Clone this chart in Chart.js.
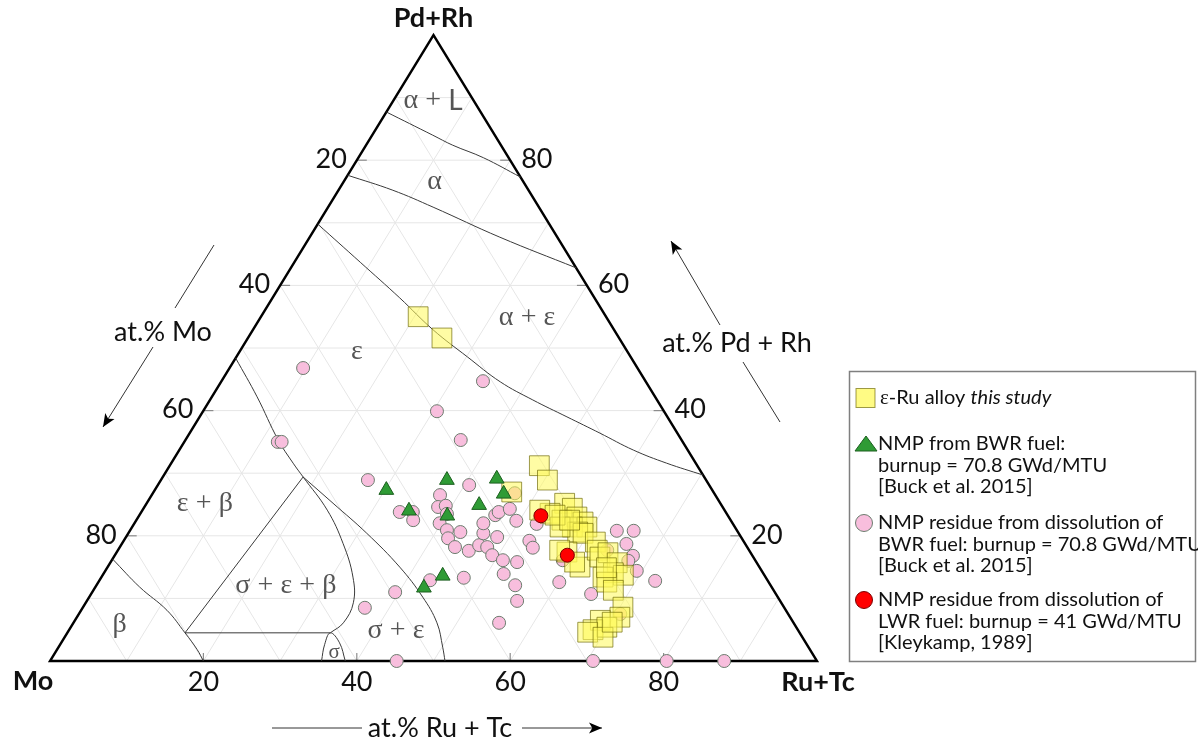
<!DOCTYPE html>
<html>
<head>
<meta charset="utf-8">
<script src="https://cdn.jsdelivr.net/npm/chart.js@4.4.1/dist/chart.umd.min.js"></script>
<style>
  html, body { margin: 0; padding: 0; background: #ffffff; }
  #wrap { width: 1198px; height: 738px; }
</style>
</head>
<body>
<div id="wrap"><canvas id="c" width="1198" height="738"></canvas></div>
<script>
// Compositions in at.%: Ru+Tc and Pd+Rh; Mo is the remainder to 100.

// ε-Ru alloy, this study
const alloyRuTc = [20.5, 25.3, 48.2, 50.4, 46.7, 54.5, 55.9, 53.4, 51.8, 55.5, 57.2, 58.4, 57.4, 59.3,
                   58.5, 55.8, 59.3, 58.7, 57.6, 61.6, 60.5, 61.6, 62.5, 63.4, 64.1, 66.1, 66.4, 67.9,
                   65.4, 66.3, 67.8, 70.4, 70.8, 68.5, 68.3, 69.9, 67.8, 70.2, 70.2, 54.2, 65.1, 56.5];
const alloyPdRh = [55.0, 51.6, 31.2, 28.9, 27.0, 25.2, 24.4, 23.6, 24.1, 22.5, 23.0, 22.2, 21.4, 21.4,
                   20.6, 21.4, 20.4, 17.4, 17.7, 15.0, 15.8, 19.0, 17.7, 16.6, 17.3, 15.7, 14.1, 13.7,
                   13.4, 12.6, 11.3, 8.6, 7.0, 6.5, 5.0, 5.4, 4.6, 3.8, 6.2, 23.3, 14.9, 22.5];

// NMP from BWR fuel [Buck et al. 2015]
const bwrNmpRuTc = [30.2, 34.8, 37.3, 43.7, 45.8, 43.5, 40.2, 44.4, 42.9];
const bwrNmpPdRh = [27.3, 24.0, 28.9, 29.1, 26.7, 24.9, 23.2, 13.6, 11.7];

// NMP residue from dissolution of BWR fuel [Buck et al. 2015]
const bwrResidueRuTc = [9.6, 12.2, 12.7, 34.1, 30.5, 35.9, 27.0, 40.6, 33.7, 35.4, 36.1, 37.6, 38.3, 39.2,
                        40.0, 39.8, 41.3, 43.2, 42.1, 43.7, 45.8, 46.7, 46.3, 45.5, 46.4, 46.6, 47.8, 49.6,
                        48.4, 47.9, 49.2, 51.0, 53.0, 52.2, 54.6, 56.1, 55.5, 47.3, 43.1, 39.5, 36.8, 45.2,
                        52.9, 53.9, 52.5, 60.1, 63.5, 65.7, 65.8, 67.6, 67.4, 69.3, 63.8, 65.2, 72.5, 70.6,
                        70.8, 80.4, 87.9, 58.8, 47.2];
const bwrResiduePdRh = [46.8, 35.0, 35.0, 44.7, 39.9, 35.3, 28.9, 28.1, 23.8, 23.8, 22.5, 26.5, 24.6, 24.8,
                        23.5, 22.0, 20.9, 20.6, 19.6, 18.2, 17.6, 18.5, 20.4, 22.0, 23.3, 23.8, 24.3, 22.4,
                        19.8, 18.2, 16.9, 16.1, 15.8, 13.9, 12.1, 9.6, 6.1, 13.3, 12.9, 11.0, 8.5, 0.0,
                        19.2, 18.1, 21.9, 12.6, 20.8, 20.8, 18.7, 16.8, 16.0, 14.4, 17.7, 10.7, 12.8, 7.5,
                        0.0, 0.0, 0.0, 16.1, 26.8];

// NMP residue from dissolution of LWR fuel [Kleykamp, 1989]
const lwrResidueRuTc = [52.4, 59.0];
const lwrResiduePdRh = [23.2, 16.9];

// Phase boundaries of the Mo–Ru–Pd isothermal section, as [Ru+Tc, Pd+Rh] pairs
const bndLiquid      = [[0, 87.7], [7.9, 84.0], [11.3, 82.4], [16.3, 80.4], [22.7, 77.3]];
const bndAlpha       = [[0, 77.6], [7.1, 75.2], [13.7, 72.5], [24.8, 67.7], [37.2, 62.8]];
const bndAlphaEps    = [[0, 69.8], [8.6, 63.7], [16.6, 58.0], [23.5, 52.9], [30.1, 48.6], [36.4, 44.6],
                        [42.1, 41.7], [47.9, 39.0], [53.5, 36.4], [59.2, 33.7], [64.6, 31.6], [70.3, 29.7]];
const bndEpsBeta     = [[0, 48.4], [5.9, 42.2], [12.1, 35.3], [15.9, 31.6], [18.3, 29.4]];
const bndThreePhase  = [[18.3, 29.4], [24.1, 24.1], [28.8, 18.8], [32.8, 13.4], [34.9, 9.3], [35.2, 6.1], [34.3, 4.5]];
const bndSigmaEps    = [[18.3, 29.4], [24.3, 25.2], [31.1, 20.4], [38.1, 15.0], [43.5, 10.2], [47.4, 6.1], [50.1, 2.2], [51.5, 0]];
const bndTieLines    = [[18.3, 29.4], [15.35, 4.5], [34.3, 4.5]];
const bndBeta        = [[0, 16.3], [5.8, 11.8], [11.2, 8.1], [15.35, 4.5], [18.3, 1.8], [20.0, 0]];
const bndSigma       = [[35.4, 0], [34.5, 2.6], [34.3, 4.5], [36.3, 2.9], [38.5, 0]];

// Phase field names and where they sit, as [Ru+Tc, Pd+Rh]
const phaseNames = ['α + L', 'α', 'α + ε', 'ε', 'ε + β', 'σ + ε + β', 'σ + ε', 'σ', 'β'];
const phaseSpots = [[5.2, 89.5], [11.9, 76.5], [34.8, 54.8], [15.3, 49.4], [7.6, 25.2], [24.7, 12.1], [42.7, 4.8], [36.4, 1.3], [6.2, 5.75]];

const tickValues = [20, 40, 60, 80];
const cornerNames = ['Mo', 'Ru+Tc', 'Pd+Rh'];
const axisTitles = ['at.% Mo', 'at.% Ru + Tc', 'at.% Pd + Rh'];

const legendEntries = [
  ['ε-Ru alloy |this study'],
  ['NMP from BWR fuel:', 'burnup = 70.8 GWd/MTU', '[Buck et al. 2015]'],
  ['NMP residue from dissolution of', 'BWR fuel: burnup = 70.8 GWd/MTU', '[Buck et al. 2015]'],
  ['NMP residue from dissolution of', 'LWR fuel: burnup = 41 GWd/MTU', '[Kleykamp, 1989]']
];

// ---- ternary -> cartesian (x along the base, y = height fraction) ----
const tern = (ru, pd) => ({ x: ru + pd / 2, y: pd });
const toPoints = (ru, pd) => ru.map((r, i) => tern(r, pd[i]));
const toPath = pairs => pairs.map(([r, p]) => tern(r, p));

const SANS = 'Lato, "Liberation Serif", sans-serif';
const SERIF = '"Liberation Serif", "DejaVu Serif", serif';

const STY = {
  alloy:   { bg: 'rgba(255, 250, 90, 0.55)', border: 'rgba(105, 100, 0, 0.65)' },
  bwrNmp:  { bg: '#2f9b35', border: '#1c5f1f' },
  residue: { bg: '#f8bedd', border: '#6c7c6e' },
  lwr:     { bg: '#ff0000', border: '#7a0000' }
};

function boundary(pairs, tension) {
  return {
    data: toPath(pairs), showLine: true, pointRadius: 0, borderColor: '#3a3a3a',
    borderWidth: 1, tension: tension, fill: false, order: 10, clip: false
  };
}

function drawRuns(ctx, runs, x, y, align) {
  let total = 0;
  runs.forEach(r => { ctx.font = r.font; r.w = ctx.measureText(r.t).width; total += r.w; });
  let cx = align === 'center' ? x - total / 2 : (align === 'right' ? x - total : x);
  ctx.textAlign = 'left';
  runs.forEach(r => { ctx.font = r.font; ctx.fillText(r.t, cx, y); cx += r.w; });
}

function greekRuns(str, size) {
  const runs = [];
  for (const ch of str) {
    const serif = /[α-ω+]/.test(ch);
    const font = size + 'px ' + (serif ? SERIF : SANS);
    if (runs.length && runs[runs.length - 1].font === font) runs[runs.length - 1].t += ch;
    else runs.push({ t: ch, font: font });
  }
  return runs;
}

function arrow(ctx, x1, y1, x2, y2, head) {
  ctx.beginPath(); ctx.moveTo(x1, y1); ctx.lineTo(x2, y2); ctx.stroke();
  if (!head) return;
  const a = Math.atan2(y2 - y1, x2 - x1), L = 13, W = 5.5;
  ctx.beginPath();
  ctx.moveTo(x2, y2);
  ctx.lineTo(x2 - L * Math.cos(a) + W * Math.sin(a), y2 - L * Math.sin(a) - W * Math.cos(a));
  ctx.lineTo(x2 - L * 0.75 * Math.cos(a), y2 - L * 0.75 * Math.sin(a));
  ctx.lineTo(x2 - L * Math.cos(a) - W * Math.sin(a), y2 - L * Math.sin(a) + W * Math.cos(a));
  ctx.closePath(); ctx.fill();
}

const ternaryFrame = {
  id: 'ternaryFrame',
  beforeDatasetsDraw(chart) {
    const { ctx } = chart, xs = chart.scales.x, ys = chart.scales.y;
    const P = (ru, pd) => [xs.getPixelForValue(ru + pd / 2), ys.getPixelForValue(pd)];
    const seg = (a, b) => { ctx.beginPath(); ctx.moveTo(a[0], a[1]); ctx.lineTo(b[0], b[1]); ctx.stroke(); };
    ctx.save();
    // 10 % grid in the three composition directions
    ctx.strokeStyle = '#e6e6e6'; ctx.lineWidth = 1;
    for (let v = 10; v < 100; v += 10) {
      seg(P(0, v), P(100 - v, v));          // constant Pd+Rh
      seg(P(v, 0), P(v, 100 - v));          // constant Ru+Tc
      seg(P(100 - v, 0), P(0, 100 - v));    // constant Mo
    }
    // ticks
    ctx.strokeStyle = '#8c8c8c'; ctx.lineWidth = 1.2;
    tickValues.forEach(v => {
      const b = P(v, 0); seg(b, [b[0], b[1] - 8]);
      const l = P(0, 100 - v); seg(l, [l[0] + 10, l[1]]);
      const r = P(100 - v, v); seg(r, [r[0] - 10, r[1]]);
    });
    // outline
    const A = P(0, 0), B = P(100, 0), C = P(0, 100);
    ctx.strokeStyle = '#000000'; ctx.lineWidth = 2.4; ctx.lineJoin = 'miter';
    ctx.beginPath(); ctx.moveTo(A[0], A[1]); ctx.lineTo(B[0], B[1]); ctx.lineTo(C[0], C[1]); ctx.closePath(); ctx.stroke();
    ctx.restore();
  },
  afterDraw(chart) {
    const { ctx } = chart, xs = chart.scales.x, ys = chart.scales.y;
    const P = (ru, pd) => [xs.getPixelForValue(ru + pd / 2), ys.getPixelForValue(pd)];
    ctx.save();
    ctx.textBaseline = 'middle';

    // phase field names
    ctx.fillStyle = '#555555';
    phaseNames.forEach((name, i) => {
      const p = P(phaseSpots[i][0], phaseSpots[i][1]);
      drawRuns(ctx, greekRuns(name, name === 'σ' ? 21 : 28), p[0], p[1], 'center');
    });

    // tick labels
    ctx.fillStyle = '#111111';
    ctx.font = '27px ' + SANS;
    tickValues.forEach(v => {
      const b = P(v, 0);
      ctx.textAlign = 'center'; ctx.fillText(String(v), b[0], b[1] + 21);
      const l = P(0, 100 - v);
      ctx.textAlign = 'right'; ctx.fillText(String(v), l[0] - 10, l[1] - 1);
      const r = P(100 - v, v);
      ctx.textAlign = 'left'; ctx.fillText(String(v), r[0] + 11, r[1] - 1);
    });

    // corner names
    ctx.font = 'bold 27px ' + SANS; ctx.textAlign = 'center';
    const A = P(0, 0), B = P(100, 0), C = P(0, 100);
    ctx.fillText(cornerNames[0], A[0] - 17, A[1] + 20);
    ctx.fillText(cornerNames[1], B[0] + 1, B[1] + 21);
    ctx.fillText(cornerNames[2], C[0], C[1] - 17);

    // axis titles with direction arrows
    ctx.font = '27px ' + SANS; ctx.fillStyle = '#111111';
    ctx.fillText(axisTitles[0], 163, 332);
    ctx.fillText(axisTitles[1], 440, 728);
    ctx.fillText(axisTitles[2], 737, 343);
    ctx.strokeStyle = '#333333'; ctx.fillStyle = '#000000'; ctx.lineWidth = 1;
    arrow(ctx, 214, 245, 175, 308, false);
    arrow(ctx, 153, 347, 103, 427, true);
    arrow(ctx, 272, 728, 362, 728, false);
    arrow(ctx, 522, 728, 602, 728, true);
    arrow(ctx, 720, 325, 671, 241, true);
    arrow(ctx, 743, 362, 780, 422, false);

    // legend
    ctx.strokeStyle = '#7f7f7f'; ctx.lineWidth = 1.5;
    ctx.strokeRect(849.5, 371.5, 346, 290);
    const rows = [398, 444, 523, 600];
    const lh = 21.5;
    ctx.lineWidth = 1;
    // square
    ctx.fillStyle = 'rgba(255, 250, 110, 0.85)'; ctx.strokeStyle = STY.alloy.border;
    ctx.fillRect(856, rows[0] - 9.5, 19, 19); ctx.strokeRect(856, rows[0] - 9.5, 19, 19);
    // triangle
    ctx.fillStyle = STY.bwrNmp.bg; ctx.strokeStyle = STY.bwrNmp.border;
    ctx.beginPath(); ctx.moveTo(866, rows[1] - 8); ctx.lineTo(877, rows[1] + 7); ctx.lineTo(855, rows[1] + 7); ctx.closePath();
    ctx.fill(); ctx.stroke();
    // circles
    [[2, STY.residue], [3, STY.lwr]].forEach(([k, s]) => {
      ctx.fillStyle = s.bg; ctx.strokeStyle = s.border;
      ctx.beginPath(); ctx.arc(864, rows[k], 8.5, 0, Math.PI * 2); ctx.fill(); ctx.stroke();
    });
    ctx.fillStyle = '#111111';
    legendEntries.forEach((lines, k) => {
      lines.forEach((line, j) => {
        const y = rows[k] + j * lh;
        if (line.includes('|')) {
          const [plain, ital] = line.split('|');
          drawRuns(ctx, [{ t: plain.charAt(0), font: '21px ' + SERIF },
                         { t: plain.slice(1), font: '20px ' + SANS },
                         { t: ital, font: 'italic 20px ' + SANS }], 880, y, 'left');
        } else {
          ctx.font = '20px ' + SANS; ctx.textAlign = 'left';
          ctx.fillText(line, 878, y);
        }
      });
    });
    ctx.restore();
  }
};

new Chart(document.getElementById('c'), {
  type: 'scatter',
  data: {
    datasets: [
      { label: 'LWR residue', data: toPoints(lwrResidueRuTc, lwrResiduePdRh), pointStyle: 'circle',
        pointRadius: 7, backgroundColor: STY.lwr.bg, borderColor: STY.lwr.border, borderWidth: 1, order: 0, clip: false },
      { label: 'BWR NMP', data: toPoints(bwrNmpRuTc, bwrNmpPdRh), pointStyle: 'triangle',
        pointRadius: 8.5, backgroundColor: STY.bwrNmp.bg, borderColor: STY.bwrNmp.border, borderWidth: 1, order: 1, clip: false },
      { label: 'ε-Ru alloy', data: toPoints(alloyRuTc, alloyPdRh), pointStyle: 'rect',
        pointRadius: 14, backgroundColor: STY.alloy.bg, borderColor: STY.alloy.border, borderWidth: 1, order: 2, clip: false },
      { label: 'BWR residue', data: toPoints(bwrResidueRuTc, bwrResiduePdRh), pointStyle: 'circle',
        pointRadius: 6.5, backgroundColor: STY.residue.bg, borderColor: STY.residue.border, borderWidth: 1, order: 3, clip: false },
      boundary(bndLiquid, 0.4),
      boundary(bndAlpha, 0.4),
      boundary(bndAlphaEps, 0.4),
      boundary(bndEpsBeta, 0.4),
      boundary(bndThreePhase, 0.4),
      boundary(bndSigmaEps, 0.4),
      boundary(bndTieLines, 0),
      boundary(bndBeta, 0.4),
      boundary(bndSigma, 0.4)
    ]
  },
  options: {
    responsive: false,
    devicePixelRatio: 1,
    animation: false,
    events: [],
    layout: { autoPadding: false, padding: { left: 50, right: 381, top: 35, bottom: 77 } },
    scales: {
      x: { type: 'linear', min: 0, max: 100, display: false },
      y: { type: 'linear', min: 0, max: 100, display: false }
    },
    plugins: { legend: { display: false }, tooltip: { enabled: false } }
  },
  plugins: [ternaryFrame]
});
</script>
</body>
</html>
